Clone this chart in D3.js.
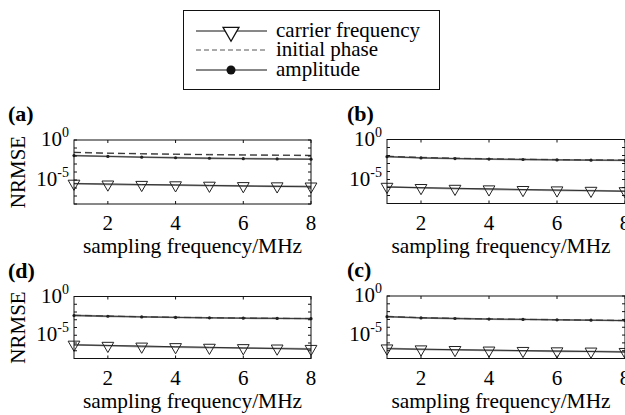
<!DOCTYPE html>
<html><head><meta charset="utf-8">
<script src="https://cdn.jsdelivr.net/npm/d3@7"></script>
<style>body{margin:0;background:#fff}svg{display:block}</style>
</head><body><svg id="c" width="625" height="415" font-family="'Liberation Serif', 'Times New Roman', Times, serif"></svg>
<script>
const xs = [1,2,3,4,5,6,7,8];
const xTicks = [2,4,6,8];
const yTickExps = [0,-1,-2,-3,-4,-5,-6,-7,-8];
const yLabelExps = [0,-5];
const legendLabels = ["carrier frequency","initial phase","amplitude"];
const panelNames = ["(a)","(b)","(d)","(c)"];
// log10 NRMSE values per panel (gray = simulated, black = reference line)
const carrierA = [-5.45,-5.55,-5.6,-5.65,-5.7,-5.75,-5.78,-5.8];
const carrierRefA = [-5.45,-5.5,-5.56,-5.62,-5.68,-5.74,-5.8,-5.85];
const phaseA = [-1.55,-1.65,-1.72,-1.78,-1.83,-1.87,-1.9,-1.93];
const ampA = [-1.95,-2.05,-2.15,-2.22,-2.28,-2.33,-2.37,-2.4];
const carrierB = [-5.9,-6.05,-6.15,-6.22,-6.3,-6.35,-6.4,-6.45];
const carrierRefB = [-5.95,-6.02,-6.1,-6.17,-6.25,-6.32,-6.4,-6.47];
const phaseB = [-2.1,-2.25,-2.35,-2.42,-2.48,-2.52,-2.56,-2.58];
const ampB = [-2.15,-2.3,-2.38,-2.45,-2.5,-2.55,-2.58,-2.6];
const carrierD = [-6.2,-6.35,-6.45,-6.52,-6.6,-6.65,-6.7,-6.75];
const carrierRefD = [-6.25,-6.32,-6.4,-6.48,-6.56,-6.64,-6.72,-6.8];
const phaseD = [-2.43,-2.53,-2.62,-2.69,-2.74,-2.79,-2.82,-2.85];
const ampD = [-2.45,-2.55,-2.63,-2.7,-2.75,-2.8,-2.83,-2.86];
const carrierC = [-6.7,-6.82,-6.9,-6.97,-7.02,-7.07,-7.1,-7.15];
const carrierRefC = [-6.75,-6.81,-6.87,-6.93,-6.99,-7.05,-7.11,-7.17];
const phaseC = [-2.63,-2.78,-2.87,-2.94,-2.99,-3.04,-3.09,-3.14];
const ampC = [-2.65,-2.8,-2.88,-2.95,-3.0,-3.05,-3.1,-3.15];

const panels = [
  {name:panelNames[0], carrier:carrierA, carrierRef:carrierRefA, phase:phaseA, amp:ampA, x0:74, x1:311, y0:140, y1:204, ylab:true},
  {name:panelNames[1], carrier:carrierB, carrierRef:carrierRefB, phase:phaseB, amp:ampB, x0:387, x1:625, y0:139.5, y1:203.5, ylab:false},
  {name:panelNames[2], carrier:carrierD, carrierRef:carrierRefD, phase:phaseD, amp:ampD, x0:74, x1:311, y0:296.5, y1:358.5, ylab:true},
  {name:panelNames[3], carrier:carrierC, carrierRef:carrierRefC, phase:phaseC, amp:ampC, x0:387, x1:625, y0:296, y1:358.5, ylab:false}
];
const FONT = "'Liberation Serif', 'Times New Roman', Times, serif";
const svg = d3.select("#c");
const tri = d3.symbol().type(d3.symbolTriangle).size(60);
const txt = (sel) => sel.append("text").attr("font-family",FONT).attr("fill","#000");

panels.forEach(p => {
  const x = d3.scaleLinear().domain([1,8]).range([p.x0,p.x1]);
  const y = d3.scaleLog().domain([1e-8,1]).range([p.y1,p.y0]);
  const g = svg.append("g");
  const v = a => a.map((e,i)=>[xs[i], Math.pow(10,e)]);
  const line = d3.line().x(d=>x(d[0])).y(d=>y(d[1]));
  g.append("path").attr("d",line(v(p.phase))).attr("fill","none").attr("stroke","#999").attr("stroke-width",1.6).attr("stroke-dasharray","7,4");
  g.append("path").attr("d",line(v(p.amp))).attr("fill","none").attr("stroke","#999").attr("stroke-width",1.8);
  g.append("path").attr("d",line(v(p.amp))).attr("fill","none").attr("stroke","#222").attr("stroke-width",0.8);
  g.append("path").attr("d",line(v(p.phase))).attr("fill","none").attr("stroke","#333").attr("stroke-width",1).attr("stroke-dasharray","7,4");
  g.append("path").attr("d",line(v(p.carrier))).attr("fill","none").attr("stroke","#999").attr("stroke-width",1.8);
  g.append("path").attr("d",line(v(p.carrierRef))).attr("fill","none").attr("stroke","#222").attr("stroke-width",0.9);
  g.selectAll(".dot").data(v(p.amp)).join("circle").attr("cx",d=>x(d[0])).attr("cy",d=>y(d[1])).attr("r",1.6).attr("fill","#222");
  g.selectAll(".tri").data(v(p.carrier)).join("path").attr("d",tri)
    .attr("transform",d=>`translate(${x(d[0])},${y(d[1])}) rotate(180)`).attr("fill","none").attr("stroke","#222").attr("stroke-width",1);
  g.append("rect").attr("x",p.x0).attr("y",p.y0).attr("width",p.x1-p.x0).attr("height",p.y1-p.y0).attr("fill","none").attr("stroke","#111").attr("stroke-width",1);
  xTicks.forEach(t=>{
    g.append("line").attr("x1",x(t)).attr("x2",x(t)).attr("y1",p.y1).attr("y2",p.y1-3).attr("stroke","#111");
    g.append("line").attr("x1",x(t)).attr("x2",x(t)).attr("y1",p.y0).attr("y2",p.y0+3).attr("stroke","#111");
    txt(g).attr("x",x(t)).attr("y",p.y1+26).attr("text-anchor","middle").attr("font-size",21).text(t);
  });
  yTickExps.forEach(e=>{
    const yy = y(Math.pow(10,e));
    g.append("line").attr("x1",p.x0).attr("x2",p.x0+3).attr("y1",yy).attr("y2",yy).attr("stroke","#111");
    g.append("line").attr("x1",p.x1).attr("x2",p.x1-3).attr("y1",yy).attr("y2",yy).attr("stroke","#111");
  });
  yLabelExps.forEach(e=>{
    const yy = y(Math.pow(10,e));
    const t = txt(g).attr("x",p.x0-5).attr("y",yy+6).attr("text-anchor","end").attr("font-size",21);
    t.append("tspan").text("10");
    t.append("tspan").attr("dy",-9).attr("font-size",14).text(e===0?"0":"-5");
  });
  txt(g).attr("x",(p.x0+p.x1)/2 + (p.ylab?0:-5)).attr("y",p.y1+49).attr("text-anchor","middle").attr("font-size",21.4).text("sampling frequency/MHz");
  if(p.ylab){
    txt(g).attr("transform",`translate(25,${(p.y0+p.y1)/2}) rotate(-90)`).attr("text-anchor","middle").attr("font-size",21).text("NRMSE");
  }
  const lx = p.ylab ? 8 : 347;
  txt(g).attr("x",lx).attr("y",p.y0-19).attr("font-size",22).attr("font-weight","bold").text(p.name);
});

const lg = svg.append("g");
lg.append("rect").attr("x",183.5).attr("y",10.5).attr("width",256).attr("height",79).attr("fill","#fff").attr("stroke","#111");
const rowsY = [31,50,70];
rowsY.forEach((ry,i)=>{
  const ln = lg.append("line").attr("x1",196).attr("x2",267).attr("y1",ry).attr("y2",ry).attr("stroke",i===1?"#555":"#111").attr("stroke-width",1);
  if(i===1) ln.attr("stroke-dasharray","5,3");
  txt(lg).attr("x",276).attr("y",ry+6).attr("font-size",21).text(legendLabels[i]);
});
lg.append("path").attr("d",d3.symbol().type(d3.symbolTriangle).size(110)).attr("transform",`translate(231,${rowsY[0]+1}) rotate(180)`).attr("fill","#fff").attr("stroke","#111").attr("stroke-width",1.3);
lg.append("circle").attr("cx",231).attr("cy",rowsY[2]).attr("r",4.5).attr("fill","#111");
</script></body></html>
